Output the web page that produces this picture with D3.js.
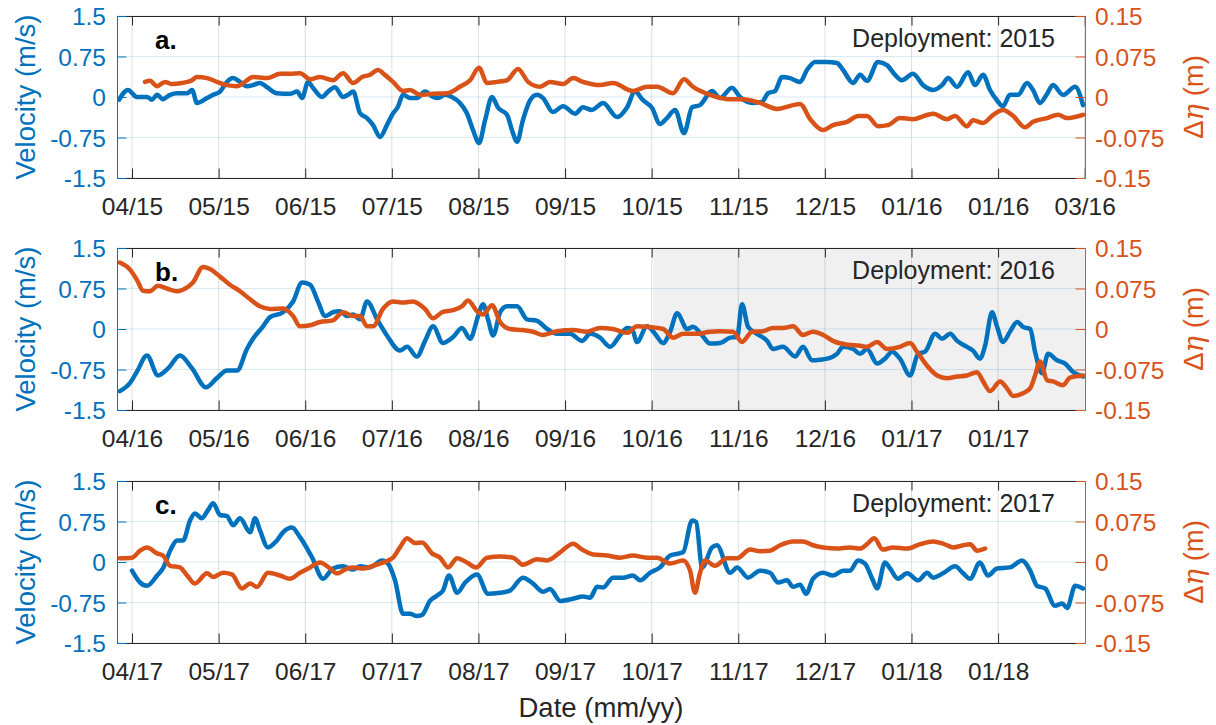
<!DOCTYPE html>
<html>
<head>
<meta charset="utf-8">
<script src="https://cdn.jsdelivr.net/npm/d3@7/dist/d3.min.js"></script>
<style>
body { margin: 0; background: #fff; }
svg { font-family: "Liberation Sans", Arial, sans-serif; }
</style>
</head>
<body>
<div id="chart"></div>
<script>
// x values are days from the first tick (ticks every 30 days)
var xTickDays = [0, 30, 60, 90, 120, 150, 180, 210, 240, 270, 300, 330];
var xLabelsA = ["04/15", "05/15", "06/15", "07/15", "08/15", "09/15", "10/15", "11/15", "12/15", "01/16", "01/16", "03/16"];
var xLabelsB = ["04/16", "05/16", "06/16", "07/16", "08/16", "09/16", "10/16", "11/16", "12/16", "01/17", "01/17"];
var xLabelsC = ["04/17", "05/17", "06/17", "07/17", "08/17", "09/17", "10/17", "11/17", "12/17", "01/18", "01/18"];
var velTicks = [-1.5, -0.75, 0, 0.75, 1.5];
var velLabels = ["-1.5", "-0.75", "0", "0.75", "1.5"];
var etaTicks = [-0.15, -0.075, 0, 0.075, 0.15];
var etaLabels = ["-0.15", "-0.075", "0", "0.075", "0.15"];
var shadeStartB = 180.5;

// velocity (m/s), panel a
var velA = [[-4.5,-0.05],[-1.4,0.13],[1.7,0],[5.2,0],[6.9,-0.05],[8.7,0.04],[10.7,-0.04],[13.2,0.04],[15.6,0.07],[19.1,0.07],[20.8,0.13],[22.5,-0.11],[26,-0.02],[28.1,0.04],[30.5,0.1],[32.9,0.28],[35,0.35],[37.4,0.28],[39.8,0.2],[41.9,0.22],[44.3,0.26],[46.8,0.18],[50.2,0.07],[54.7,0.06],[57.2,0.1],[58.9,-0.02],[61,0.28],[62.7,0.17],[65.8,0],[67.9,0.1],[70.3,0.18],[73.1,0],[74.8,0.04],[76.6,0.1],[79,-0.3],[81.4,-0.39],[83.5,-0.52],[85.9,-0.74],[88.3,-0.52],[90.1,-0.33],[92.1,-0.18],[93.9,0.04],[96.3,-0.02],[98.7,-0.02],[101.5,0.1],[104.3,0],[106,-0.02],[108.4,0.04],[110.8,0],[113.6,-0.11],[116,-0.3],[118.1,-0.61],[120.2,-0.85],[122.3,-0.43],[124.7,0],[126.8,-0.2],[129.9,-0.33],[131.6,-0.61],[133.4,-0.83],[135.4,-0.43],[137.9,-0.06],[140.3,0.04],[142.4,-0.02],[145.8,-0.28],[149.3,-0.17],[153.5,-0.31],[156.2,-0.19],[159.3,-0.24],[163.2,-0.11],[168,-0.37],[171.5,-0.19],[174.2,0.1],[177,-0.06],[180.1,-0.2],[182.9,-0.5],[185.3,-0.39],[188.1,-0.24],[191.2,-0.67],[194,-0.19],[196.7,-0.15],[200.9,0.11],[203.7,-0.02],[207.8,0.17],[210.6,0],[215.1,-0.11],[218.2,-0.09],[220.3,0.07],[222.7,0.11],[225.2,0.37],[227.9,0.35],[231.4,0.28],[233.8,0.5],[236.6,0.65],[240.7,0.65],[244.2,0.63],[246.3,0.5],[249.8,0.26],[252.2,0.41],[254.6,0.3],[258.4,0.65],[261.5,0.59],[264.3,0.41],[266.7,0.31],[270.5,0.43],[274,0.22],[277.5,0.13],[280.6,0.22],[282.7,0.35],[285.8,0.19],[289.6,0.46],[292,0.22],[294.8,0.41],[297.2,0.13],[299.6,-0.06],[301.7,-0.17],[304.1,0.04],[306.9,0.04],[310,0.26],[312.1,0.13],[314.5,-0.11],[317,0.06],[319,0.22],[322.5,0.04],[326.7,0.19],[329.4,-0.15]];

// sea level difference (m), panel a
var etaA = [[4.5,0.028],[6.2,0.03],[8.7,0.02],[11.4,0.028],[13.9,0.024],[17.3,0.026],[20.8,0.031],[22.5,0.037],[26,0.035],[29.4,0.028],[32.9,0.022],[36.4,0.02],[39.1,0.028],[41.9,0.037],[46.8,0.035],[51.3,0.043],[54.7,0.043],[58.2,0.044],[61.7,0.033],[65.1,0.037],[69.6,0.031],[73.1,0.044],[76.6,0.026],[79.7,0.037],[82.4,0.041],[85.2,0.05],[87.6,0.041],[90.4,0.028],[93.9,0.011],[96.3,0.013],[99.8,0.004],[104.3,0.006],[109.1,0.007],[113.6,0.019],[117.1,0.031],[120.2,0.054],[123,0.026],[126.4,0.028],[129.9,0.031],[133.7,0.052],[137.2,0.028],[141.3,0.019],[144.8,0.028],[149.3,0.024],[152.8,0.035],[156.2,0.028],[162.1,0.022],[166.6,0.026],[173.5,0.011],[178.4,0.019],[181.9,0.019],[187.4,0.007],[191.2,0.033],[194.3,0.019],[200.2,0.004],[207.2,-0.004],[211.7,-0.004],[217.5,-0.011],[223.4,-0.022],[231.4,-0.013],[234.9,-0.041],[239.4,-0.061],[242.8,-0.052],[247.7,-0.046],[251.5,-0.035],[254.6,-0.035],[258.4,-0.054],[261.9,-0.052],[266,-0.039],[270.5,-0.041],[277.5,-0.031],[282.3,-0.041],[285.1,-0.035],[289.2,-0.054],[291.3,-0.043],[294.8,-0.048],[298.3,-0.033],[301.7,-0.024],[305.2,-0.035],[309.3,-0.056],[312.1,-0.046],[317,-0.039],[320.8,-0.033],[323.9,-0.039],[329.4,-0.033]];

// velocity (m/s), panel b
var velB = [[-4.2,-1.15],[-0.7,-1.0],[1.7,-0.79],[5.2,-0.49],[9,-0.86],[12.5,-0.73],[16.6,-0.49],[20.8,-0.73],[25.6,-1.08],[29.4,-0.91],[32.9,-0.77],[36.4,-0.77],[39.8,-0.37],[41.9,-0.18],[45.4,0.05],[47.8,0.22],[52.3,0.31],[55.8,0.51],[58.9,0.86],[61.7,0.82],[64.4,0.51],[66.9,0.24],[69.6,0.31],[72.1,0.33],[74.5,0.24],[76.6,0.27],[79,0.18],[81.4,0.51],[84.9,0.18],[88.3,-0.12],[92.8,-0.4],[95.3,-0.33],[98.7,-0.51],[101.5,-0.22],[104.3,0.05],[107.7,-0.26],[111.2,-0.15],[114.3,0.02],[117.1,-0.18],[119.9,0.24],[121.6,0.46],[123.3,0.18],[125.1,-0.12],[127.5,0.31],[129.9,0.42],[133.4,0.42],[136.8,0.18],[140.3,0.15],[143.8,0],[147.2,-0.09],[151.7,-0.09],[155.9,-0.22],[158.7,-0.09],[162.1,-0.16],[165.6,-0.33],[169,-0.12],[171.5,0.02],[173.2,0],[174.9,-0.24],[178.4,0.05],[181.2,-0.09],[183.9,-0.26],[186.4,-0.05],[188.8,0.29],[192.3,0],[194.3,0.04],[197.5,-0.12],[200.2,-0.27],[203.7,-0.26],[207.2,-0.16],[209.6,-0.15],[211.3,0.46],[213.4,0.04],[216.5,-0.09],[220,-0.22],[222,-0.37],[225.5,-0.33],[229.7,-0.51],[232.4,-0.33],[235.6,-0.58],[238.3,-0.57],[240.7,-0.55],[244.2,-0.46],[246.3,-0.33],[249.8,-0.37],[252.2,-0.46],[254.6,-0.37],[258.1,-0.64],[260.8,-0.55],[263.3,-0.42],[266,-0.55],[269.5,-0.86],[272.3,-0.46],[274.7,-0.42],[278.2,-0.09],[280.6,-0.18],[283.4,-0.09],[285.8,-0.22],[289.2,-0.33],[291.3,-0.4],[293.7,-0.55],[295.5,-0.31],[297.9,0.31],[299.6,0.05],[301.7,-0.24],[304.1,-0.05],[306.6,0.13],[308.6,0.04],[311.1,0],[312.8,-0.42],[315.2,-0.82],[317.3,-0.46],[320.4,-0.58],[323.2,-0.64],[325.9,-0.79],[329.4,-0.88]];

// sea level difference (m), panel b
var etaB = [[-4.2,0.123],[-0.7,0.11],[1.7,0.091],[3.8,0.071],[6.2,0.07],[9,0.08],[12.1,0.075],[15.6,0.07],[19.1,0.077],[21.1,0.086],[24.6,0.115],[27,0.111],[30.5,0.097],[33.9,0.082],[37.4,0.07],[40.9,0.055],[44.3,0.042],[47.8,0.037],[52.3,0.038],[55.8,0.024],[58.2,0.005],[61.7,0.007],[65.1,0.013],[69.6,0.016],[73.1,0.031],[76.6,0.024],[79,0.024],[81.4,0.005],[83.5,0.005],[86.9,0.037],[90.4,0.051],[93.9,0.049],[97.3,0.051],[101.5,0.037],[104.3,0.02],[107.4,0.031],[111.2,0.035],[114.3,0.042],[116.4,0.053],[119.5,0.033],[121.6,0.027],[124.7,0.044],[127.5,0.013],[130.9,0],[135.4,-0.002],[138.9,-0.005],[142.4,-0.011],[147.2,-0.004],[152.8,-0.002],[157.6,-0.005],[162.1,0.002],[166.6,0],[171.5,-0.007],[174.9,0.005],[178.4,0.004],[183.9,0],[187.4,-0.016],[190.9,-0.009],[195.7,-0.009],[200.2,-0.005],[203.7,-0.004],[208.2,-0.005],[211.3,-0.024],[214.8,-0.005],[218.6,-0.004],[222,0.002],[225.5,0.002],[229,0.005],[232.4,-0.011],[235.9,-0.005],[239.4,-0.011],[242.8,-0.022],[247.7,-0.029],[252.2,-0.031],[254.6,-0.033],[258.1,-0.024],[261.5,-0.037],[266,-0.033],[269.5,-0.026],[271.9,-0.042],[275.4,-0.068],[278.9,-0.086],[282.3,-0.091],[285.8,-0.088],[289.2,-0.086],[292.7,-0.08],[294.8,-0.097],[297.2,-0.115],[300.7,-0.097],[303.1,-0.11],[305.2,-0.124],[308.6,-0.119],[311.1,-0.11],[312.8,-0.086],[314.5,-0.06],[317,-0.095],[319,-0.097],[322.5,-0.104],[324.9,-0.09],[329.4,-0.086]];

// velocity (m/s), panel c
var velC = [[0,-0.16],[2.8,-0.38],[5.2,-0.44],[8.7,-0.25],[10.7,-0.12],[13.2,0.21],[15.6,0.4],[17.7,0.4],[20.1,0.77],[21.8,0.9],[24.2,0.81],[26.3,0.96],[28.1,1.09],[30.5,0.87],[32.9,0.85],[35,0.68],[37.4,0.81],[40.9,0.55],[42.6,0.81],[44.3,0.59],[47.1,0.27],[50.2,0.4],[52.3,0.55],[55.4,0.64],[58.2,0.46],[62.4,0.08],[66.2,-0.31],[69.6,-0.12],[73.1,-0.08],[76.6,-0.14],[79,-0.08],[82.4,-0.1],[86.6,0.03],[88.7,-0.03],[91.1,-0.34],[93.9,-0.96],[96.3,-0.96],[98.7,-1.0],[100.5,-0.98],[103.2,-0.72],[105.7,-0.62],[107.7,-0.53],[109.8,-0.25],[112.6,-0.57],[115.4,-0.38],[119.5,-0.23],[123.3,-0.59],[127.5,-0.57],[130.9,-0.53],[135.4,-0.29],[138.9,-0.4],[142.4,-0.55],[144.8,-0.5],[148.3,-0.72],[152.8,-0.68],[156.2,-0.64],[158.7,-0.66],[161.1,-0.46],[163.2,-0.47],[166.6,-0.29],[170.1,-0.29],[173.5,-0.25],[176,-0.34],[179.4,-0.2],[182.9,-0.1],[186.4,0.12],[190.9,0.18],[194,0.77],[195.4,0.74],[197.5,-0.1],[200.9,0.27],[202.6,0.31],[207.2,-0.2],[209.6,-0.1],[213.4,-0.29],[217.5,-0.16],[221,-0.2],[223.8,-0.38],[226.9,-0.34],[229,-0.46],[231.4,-0.42],[233.5,-0.59],[235.9,-0.31],[239.4,-0.2],[242.8,-0.25],[246.3,-0.16],[248.7,-0.16],[251.5,0.03],[253.9,-0.03],[256.4,-0.31],[258.1,-0.49],[260.8,-0.01],[262.6,-0.12],[265.3,-0.31],[268.5,-0.21],[272.3,-0.34],[275.4,-0.2],[277.5,-0.29],[280.9,-0.21],[285.1,-0.08],[287.9,-0.21],[290.3,-0.31],[293.7,-0.01],[296.5,-0.25],[299.6,-0.12],[304.1,-0.1],[308.3,0.03],[311.1,-0.16],[313.5,-0.44],[316.3,-0.49],[319.7,-0.81],[322.2,-0.77],[323.9,-0.85],[326.7,-0.44],[329.4,-0.49]];

// sea level difference (m), panel c
var etaC = [[-4.2,0.007],[0,0.008],[2.8,0.021],[5.2,0.027],[8.7,0.016],[10.7,0.012],[13.2,-0.007],[16.6,-0.01],[19.1,-0.025],[21.8,-0.04],[26,-0.021],[28.1,-0.028],[31.5,-0.02],[34.6,-0.023],[38.1,-0.049],[40.9,-0.04],[43.3,-0.046],[47.1,-0.02],[51.3,-0.025],[54.7,-0.031],[58.2,-0.02],[61.7,-0.01],[65.1,-0.001],[68.6,-0.012],[71,-0.021],[74.5,-0.012],[76.6,-0.01],[80,-0.012],[83.5,-0.007],[86.9,-0.001],[90.4,0.008],[92.8,0.027],[95.3,0.044],[98,0.035],[100.5,0.036],[103.9,0.016],[106.7,0.008],[109.5,-0.01],[112.6,0.007],[116,-0.001],[119.2,-0.01],[123,0.008],[127.5,0.01],[132,0.008],[135.4,-0.005],[140.3,0.005],[143.8,0.003],[148.3,0.018],[152.8,0.034],[155.9,0.023],[159.7,0.014],[164.5,0.012],[169,0.008],[173.5,0.012],[178.4,0.008],[181.9,0.008],[186.4,-0.003],[190.9,0.003],[193.3,-0.016],[195,-0.057],[196.7,-0.021],[198.5,0.003],[201.9,-0.007],[206.1,0.007],[209.6,0.007],[214.1,0.023],[217.5,0.02],[221,0.021],[224.5,0.031],[229,0.038],[232.4,0.038],[235.9,0.031],[239.4,0.027],[244.2,0.025],[248.7,0.027],[252.2,0.025],[254.6,0.033],[257.1,0.044],[260.1,0.023],[263.6,0.027],[268.5,0.025],[273,0.033],[277.5,0.038],[280.9,0.034],[284.4,0.027],[287.9,0.031],[290.3,0.033],[292.7,0.021],[295.5,0.025]];

var blue = "#0072BD", orange = "#D95319", dark = "#262626";
var width = 1216, height = 725;
var left = 117, right = 1085;
var xDomain = [-5.2, 330.1];

var svg = d3.select("#chart").append("svg")
    .attr("width", width)
    .attr("height", height);

var panels = [
    { id: "a", top: 16, labels: xLabelsA, vel: velA, eta: etaA, title: "a.", dep: "Deployment: 2015", shade: null },
    { id: "b", top: 248, labels: xLabelsB, vel: velB, eta: etaB, title: "b.", dep: "Deployment: 2016", shade: shadeStartB },
    { id: "c", top: 481, labels: xLabelsC, vel: velC, eta: etaC, title: "c.", dep: "Deployment: 2017", shade: null }
];
var ph = 162;

panels.forEach(function (p) {
    var top = p.top, bottom = p.top + ph;
    var x = d3.scaleLinear().domain(xDomain).range([left, right]);
    var yv = d3.scaleLinear().domain([-1.5, 1.5]).range([bottom, top]);
    var ye = d3.scaleLinear().domain([-0.15, 0.15]).range([bottom, top]);
    var ticks = xTickDays.slice(0, p.labels.length);

    var g = svg.append("g");

    if (p.shade !== null) {
        g.append("rect")
            .attr("x", x(p.shade)).attr("y", top)
            .attr("width", x(xDomain[1]) - x(p.shade)).attr("height", ph)
            .attr("fill", "#f0f0f0");
    }

    // grid
    g.selectAll(".vgrid").data(ticks).enter().append("line")
        .attr("x1", function (d) { return x(d); }).attr("x2", function (d) { return x(d); })
        .attr("y1", top).attr("y2", bottom)
        .attr("stroke", dark).attr("stroke-opacity", 0.15).attr("stroke-width", 1);
    g.selectAll(".hgrid").data(velTicks).enter().append("line")
        .attr("x1", left).attr("x2", right)
        .attr("y1", function (d) { return yv(d); }).attr("y2", function (d) { return yv(d); })
        .attr("stroke", blue).attr("stroke-opacity", 0.15).attr("stroke-width", 1);

    svg.append("clipPath").attr("id", "clip" + p.id)
        .append("rect").attr("x", left).attr("y", top).attr("width", right - left).attr("height", ph);

    var lineV = d3.line().x(function (d) { return x(d[0]); }).y(function (d) { return yv(d[1]); }).curve(d3.curveMonotoneX);
    var lineE = d3.line().x(function (d) { return x(d[0]); }).y(function (d) { return ye(d[1]); }).curve(d3.curveMonotoneX);

    var lines = g.append("g").attr("clip-path", "url(#clip" + p.id + ")");
    lines.append("path").datum(p.vel).attr("d", lineV)
        .attr("fill", "none").attr("stroke", blue).attr("stroke-width", 4.5)
        .attr("stroke-linejoin", "round").attr("stroke-linecap", "round");
    lines.append("path").datum(p.eta).attr("d", lineE)
        .attr("fill", "none").attr("stroke", orange).attr("stroke-width", 4.5)
        .attr("stroke-linejoin", "round").attr("stroke-linecap", "round");

    // axes, ticks pointing inward
    var xb = g.append("g").attr("transform", "translate(0," + bottom + ")")
        .call(d3.axisBottom(x).tickValues(ticks).tickSizeInner(-9.5).tickSizeOuter(0).tickPadding(20)
            .tickFormat(function (d, i) { return p.labels[i]; }));
    var xt = g.append("g").attr("transform", "translate(0," + top + ")")
        .call(d3.axisTop(x).tickValues(ticks).tickSizeInner(-9.5).tickSizeOuter(0).tickFormat(""));
    [xb, xt].forEach(function (a) {
        a.select(".domain").attr("stroke", dark);
        a.selectAll(".tick line").attr("stroke", dark);
        a.selectAll("text").attr("fill", dark).style("font-size", "24.5px").attr("font-family", null);
    });

    var yl = g.append("g").attr("transform", "translate(" + left + ",0)")
        .call(d3.axisLeft(yv).tickValues(velTicks).tickSizeInner(-9.5).tickSizeOuter(0).tickPadding(11)
            .tickFormat(function (d, i) { return velLabels[i]; }));
    yl.select(".domain").attr("stroke", blue);
    yl.selectAll(".tick line").attr("stroke", blue);
    yl.selectAll("text").attr("fill", blue).attr("dy", "0.36em").style("font-size", "24.5px").attr("font-family", null);

    var yr = g.append("g").attr("transform", "translate(" + right + ",0)")
        .call(d3.axisRight(ye).tickValues(etaTicks).tickSizeInner(-9.5).tickSizeOuter(0).tickPadding(10)
            .tickFormat(function (d, i) { return etaLabels[i]; }));
    yr.select(".domain").attr("stroke", orange);
    yr.selectAll(".tick line").attr("stroke", orange);
    yr.selectAll("text").attr("fill", orange).attr("dy", "0.36em").style("font-size", "24.5px").attr("font-family", null);

    // axis titles
    var mid = (top + bottom) / 2;
    g.append("text")
        .attr("transform", "translate(35," + mid + ") rotate(-90)")
        .attr("text-anchor", "middle")
        .attr("fill", blue)
        .style("font-size", "27.5px")
        .text("Velocity (m/s)");
    var et = g.append("text")
        .attr("transform", "translate(1203," + mid + ") rotate(-90)")
        .attr("text-anchor", "middle")
        .attr("fill", orange)
        .style("font-size", "27.5px");
    et.append("tspan").text("Δ");
    et.append("tspan").attr("font-style", "italic").attr("font-family", "'DejaVu Serif', serif").text("η");
    et.append("tspan").text(" (m)");

    g.append("text")
        .attr("x", 155).attr("y", top + 33)
        .attr("fill", "#000")
        .style("font-size", "26px").style("font-weight", "bold")
        .text(p.title);
    g.append("text")
        .attr("x", 1055).attr("y", top + 31)
        .attr("text-anchor", "end")
        .attr("fill", dark)
        .style("font-size", "25px")
        .text(p.dep);
});

svg.append("text")
    .attr("x", (left + right) / 2).attr("y", 717)
    .attr("text-anchor", "middle")
    .attr("fill", dark)
    .style("font-size", "27.5px")
    .text("Date (mm/yy)");
</script>
</body>
</html>
